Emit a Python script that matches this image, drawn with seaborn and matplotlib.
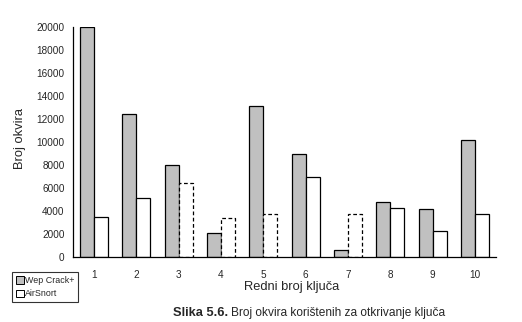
import matplotlib
matplotlib.use("Agg")
import matplotlib.pyplot as plt
from matplotlib.patches import Patch
import seaborn as sns
import pandas as pd

# Frames needed to recover the key, per key number
keys = ["1", "2", "3", "4", "5", "6", "7", "8", "9", "10"]
wepcrack = [20000, 12400, 8000, 2100, 13100, 9000, 650, 4800, 4200, 10200]
airsnort = [3500, 5150, 6450, 3350, 3700, 7000, 3700, 4300, 2300, 3700]
tools = ["Wep Crack+", "AirSnort"]
# AirSnort runs drawn with a dashed outline
dashed_keys = ["3", "4", "5", "7"]

df = pd.DataFrame({
    "key": keys * 2,
    "frames": wepcrack + airsnort,
    "tool": [tools[0]] * len(keys) + [tools[1]] * len(keys),
})

sns.set_theme(style="white")
plt.rcParams["font.family"] = ["Liberation Sans", "DejaVu Sans"]

W, H = 522, 322
fig = plt.figure(figsize=(W / 100, H / 100), dpi=100)
ax = fig.add_axes([73 / W, 1 - 257 / H, 423 / W, 230 / H])

palette = {tools[0]: "#c0c0c0", tools[1]: "#ffffff"}
sns.barplot(data=df, x="key", y="frames", hue="tool", hue_order=tools,
            order=keys, palette=palette, width=0.66, gap=0,
            edgecolor="black", linewidth=0.9, saturation=1,
            legend=False, ax=ax)

for i, bar in enumerate(ax.containers[1].patches):
    if keys[i] in dashed_keys:
        bar.set_linestyle((0, (3, 2)))

ax.set_xlim(-0.5, len(keys) - 0.5)
ax.set_ylim(0, 20000)
ax.set_yticks(range(0, 20001, 2000))
ax.set_yticklabels([str(v) for v in range(0, 20001, 2000)], fontsize=7.2)
ax.set_xticks(range(len(keys)))
ax.set_xticklabels(keys, fontsize=7.2)
ax.set_xticks([i - 0.5 for i in range(len(keys) + 1)], minor=True)
ax.tick_params(axis="x", which="major", length=0, pad=9)
ax.tick_params(axis="x", which="minor", length=4, width=0.9, color="black", direction="out")
ax.tick_params(axis="y", length=4, width=0.9, color="black", direction="out", pad=2)

for side in ["top", "right"]:
    ax.spines[side].set_visible(False)
for side in ["left", "bottom"]:
    ax.spines[side].set_color("black")
    ax.spines[side].set_linewidth(0.9)
ax.grid(False)

ax.set_xlabel("Redni broj ključa", fontsize=9.3)
ax.xaxis.set_label_coords(0.518, -0.105)
ax.set_ylabel("Broj okvira", fontsize=9.3)
ax.yaxis.set_label_coords(-0.112, 0.515)

handles = [Patch(facecolor=palette[t], edgecolor="black", linewidth=0.7, label=t) for t in tools]
leg = fig.legend(handles=handles, loc="lower left", bbox_to_anchor=(12 / W, 1 - 302 / H),
                 fontsize=6.4, frameon=True, fancybox=False, edgecolor="black",
                 handlelength=0.9, handleheight=0.9, handletextpad=0.2,
                 borderpad=0.4, labelspacing=0.5, borderaxespad=0)
leg.get_frame().set_linewidth(0.8)

# Caption: bold figure number followed by the regular title text, centred as a whole
cap_y = 1 - 313 / H
bold = fig.text(0, cap_y, "Slika 5.6.", fontsize=9.3, fontweight="bold",
                ha="left", va="center")
rest = fig.text(0, cap_y, "Broj okvira korištenih za otkrivanje ključa",
                fontsize=8.6, ha="left", va="center")
renderer = fig.canvas.get_renderer()
wb = bold.get_window_extent(renderer=renderer).width
wr = rest.get_window_extent(renderer=renderer).width
gap = 3
x0 = 309 - (wb + gap + wr) / 2
bold.set_x(x0 / W)
rest.set_x((x0 + wb + gap) / W)

fig.savefig("out.png", dpi=100)
